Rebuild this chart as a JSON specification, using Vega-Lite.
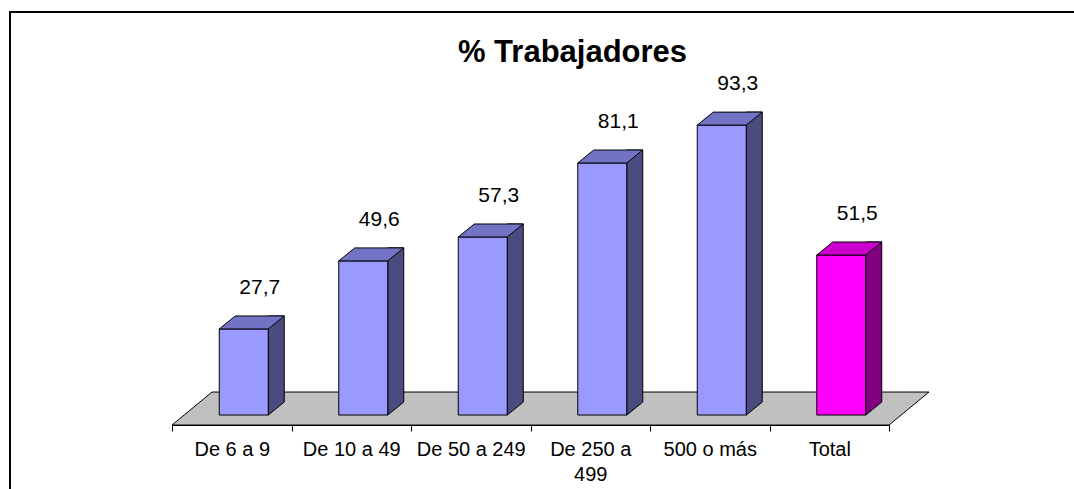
{
  "$schema": "https://vega.github.io/schema/vega-lite/v6.json",
  "width": 1125,
  "height": 500,
  "autosize": {"type": "none"},
  "padding": {"left": 10, "top": 12, "right": 0, "bottom": 0},
  "background": "white",
  "title": {
    "text": "% Trabajadores",
    "font": "Liberation Sans",
    "fontSize": 31,
    "fontWeight": "bold",
    "color": "#000000",
    "anchor": "middle",
    "frame": "group",
    "baseline": "alphabetic",
    "offset": -81
  },
  "config": {
    "view": {"stroke": "#000000", "strokeWidth": 2},
    "locale": {"number": {"decimal": ",", "thousands": ".", "grouping": [3], "currency": ["", " €"]}}
  },
  "data": {
    "values": [
      {"cat": "De 6 a 9", "pct": 27.7},
      {"cat": "De 10 a 49", "pct": 49.6},
      {"cat": "De 50 a 249", "pct": 57.3},
      {"cat": "De 250 a 499", "pct": 81.1},
      {"cat": "500 o más", "pct": 93.3},
      {"cat": "Total", "pct": 51.5}
    ]
  },
  "encoding": {
    "x": {
      "field": "cat",
      "type": "nominal",
      "sort": null,
      "scale": {"range": [162, 879], "paddingInner": 0, "paddingOuter": 0},
      "axis": {
        "title": null,
        "labelAngle": 0,
        "labelFont": "Liberation Sans",
        "labelFontSize": 20,
        "labelColor": "#000000",
        "domainColor": "#000000",
        "domainWidth": 1,
        "tickColor": "#000000",
        "tickSize": 6,
        "tickWidth": 1,
        "tickBand": "extent",
        "offset": -87,
        "labelPadding": 8,
        "labelLineHeight": 25,
        "labelExpr": "datum.value == 'De 250 a 499' ? ['De 250 a', '499'] : datum.value",
        "labelBound": false,
        "labelOverlap": false,
        "grid": false,
        "zindex": 1
      }
    },
    "y": {
      "field": "pct",
      "type": "quantitative",
      "scale": {"domain": [-31.2, 129.7], "nice": false, "zero": false},
      "axis": null
    }
  },
  "layer": [
    {
      "transform": [{"filter": "datum.cat == 'De 6 a 9'"}],
      "mark": {
        "type": "point",
        "shape": "M -59.75 10 L 657.25 10 L 697.25 -23 L -19.75 -23 Z",
        "size": 4,
        "filled": true,
        "fill": "#c0c0c0",
        "stroke": "#000000",
        "strokeWidth": 1,
        "opacity": 1
      },
      "encoding": {"y": {"datum": 0, "type": "quantitative"}}
    },
    {
      "mark": {
        "type": "bar",
        "width": 16,
        "xOffset": 44.5,
        "yOffset": -13,
        "stroke": "#000000",
        "strokeWidth": 1
      },
      "encoding": {
        "y2": {"datum": 0},
        "color": {
          "condition": {"test": "datum.cat == 'Total'", "value": "#800080"},
          "value": "#4b4b7f"
        }
      }
    },
    {
      "mark": {
        "type": "point",
        "shape": "M 0 0 L 16 -13 L 17.5 -13 L 17.5 1.5 L 0 1.5 Z",
        "size": 4,
        "filled": true,
        "fill": "#c0c0c0",
        "strokeWidth": 0,
        "opacity": 1,
        "xOffset": 36.5
      },
      "encoding": {"y": {"datum": 0, "type": "quantitative"}}
    },
    {
      "mark": {
        "type": "point",
        "shape": "M 0 0 L 16 -13",
        "size": 4,
        "filled": false,
        "stroke": "#000000",
        "strokeWidth": 1,
        "opacity": 1,
        "xOffset": 36.5
      },
      "encoding": {"y": {"datum": 0, "type": "quantitative"}}
    },
    {
      "mark": {
        "type": "bar",
        "width": 49,
        "xOffset": 12,
        "stroke": "#000000",
        "strokeWidth": 1
      },
      "encoding": {
        "y2": {"datum": 0},
        "color": {
          "condition": {"test": "datum.cat == 'Total'", "value": "#ff00ff"},
          "value": "#9999ff"
        }
      }
    },
    {
      "mark": {
        "type": "point",
        "shape": "M -24.5 0 L 24.5 0 L 40.5 -13 L -8.5 -13 Z",
        "size": 4,
        "filled": true,
        "stroke": "#000000",
        "strokeWidth": 1,
        "opacity": 1,
        "xOffset": 12
      },
      "encoding": {
        "color": {
          "condition": {"test": "datum.cat == 'Total'", "value": "#cc00cc"},
          "value": "#7373c6"
        }
      }
    },
    {
      "mark": {
        "type": "text",
        "xOffset": 28,
        "yOffset": -35,
        "baseline": "alphabetic",
        "align": "center",
        "font": "Liberation Sans",
        "fontSize": 21,
        "color": "#000000"
      },
      "encoding": {
        "text": {"field": "pct", "type": "quantitative", "format": ".1f"}
      }
    }
  ]
}
